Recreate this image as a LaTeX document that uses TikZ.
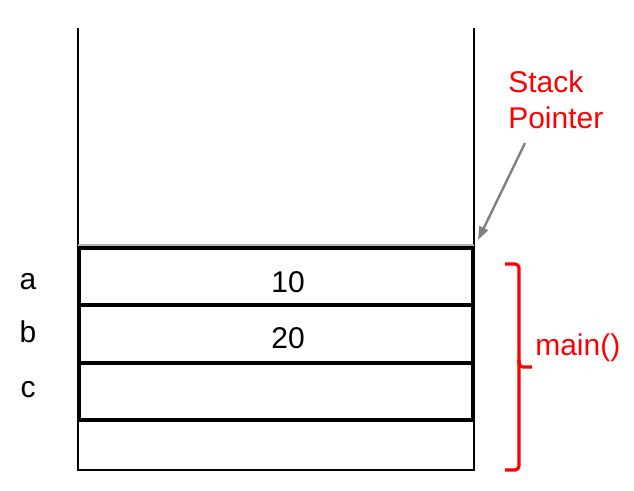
\documentclass[tikz,border=0pt]{standalone}
\usepackage{fontspec}
\setmainfont{Liberation Sans}
\usetikzlibrary{arrows.meta}

\begin{document}
\begin{tikzpicture}[x=0.75pt, y=-0.75pt,
    txt/.style={font=\fontsize{22.5}{27}\selectfont, inner sep=0pt, anchor=base},
    note/.style={txt, text=red, anchor=base west},
    cellline/.style={line width=2.4pt}]
  \useasboundingbox (0,0) rectangle (634,490);

  % walls of the stack
  \draw[line width=1.8pt] (78,28) -- (78,470) -- (474,470) -- (474,28);
  \draw[gray!60, line width=1pt] (78,245) -- (474,245);

  % the three cells of main()
  \draw[cellline] (79,248) rectangle (473,305);
  \draw[cellline] (79,305) rectangle (473,363);
  \draw[cellline] (79,363) rectangle (473,420);

  \node[txt] (va) at (288,292) {10};
  \node[txt] (vb) at (288,348) {20};

  \node[txt] (la) at (28,289) {a};
  \node[txt] (lb) at (28,342) {b};
  \node[txt] (lc) at (28,397) {c};

  % stack pointer
  \node[note] (sp1) at (508,92) {Stack};
  \node[note] (sp2) at (508,128) {Pointer};
  \coordinate (spfrom) at (525,143);
  \coordinate (sptip) at (478,240);
  \draw[gray, line width=1.8pt, -{Triangle[length=10pt,width=7pt]}] (spfrom) -- (sptip);

  % brace for main()
  \draw[red, line width=2.4pt, rounded corners=3pt]
    (505,264) -- (519,264) -- (519,367) -- (532,367);
  \draw[red, line width=2.4pt, rounded corners=3pt]
    (519,360) -- (519,470) -- (505,470);
  \node[note] (fn) at (535,355) {main()};
\end{tikzpicture}
\end{document}
